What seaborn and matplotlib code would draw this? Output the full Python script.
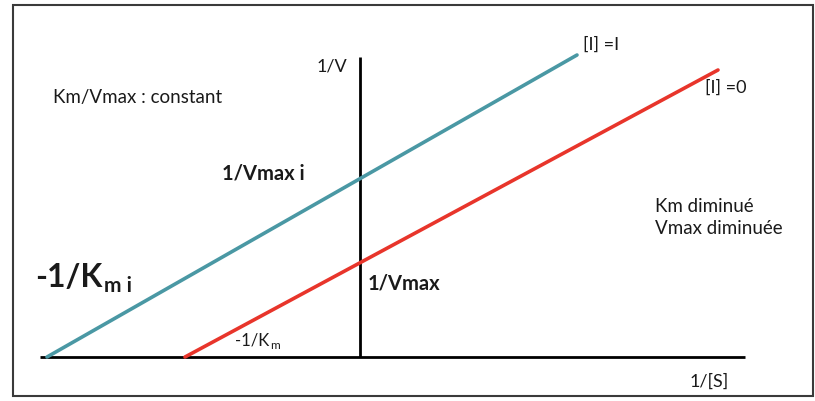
import matplotlib
matplotlib.use('Agg')
import matplotlib.pyplot as plt
from matplotlib.patches import Rectangle
import pandas as pd
import seaborn as sns

# Données du diagramme de Lineweaver-Burk (unités arbitraires)
inv_s_inhib = [-3.13, 2.17]   # [I] = I
inv_v_inhib = [0.0, 3.02]
inv_s_sans = [-1.75, 3.58]    # [I] = 0
inv_v_sans = [0.0, 2.87]
axe_x = [-3.20, 3.85]
axe_y = [0.0, 3.00]

sns.set_theme(style='white')
plt.rcParams['font.family'] = ['Lato', 'DejaVu Sans']

df = pd.concat([
    pd.DataFrame({'1/[S]': inv_s_inhib, '1/V': inv_v_inhib, 'serie': '[I] =I'}),
    pd.DataFrame({'1/[S]': inv_s_sans, '1/V': inv_v_sans, 'serie': '[I] =0'}),
])

fig = plt.figure(figsize=(8.15, 4.01), dpi=100)
ax = fig.add_axes([0, 0, 1, 1])

# axes
ax.plot(axe_x, [0, 0], color='black', lw=2.0, solid_capstyle='butt')
ax.plot([0, 0], axe_y, color='black', lw=2.0, solid_capstyle='butt')

sns.lineplot(data=df, x='1/[S]', y='1/V', hue='serie', estimator=None, sort=False,
             palette={'[I] =I': '#4a98a4', '[I] =0': '#e8352b'}, lw=2.6,
             legend=False, ax=ax)

ax.set_xlim(-3.60, 4.55)
ax.set_ylim(-0.44, 3.57)
ax.axis('off')

c = '#1a1a1a'
ax.text(-3.07, 2.60, 'Km/Vmax : constant', fontsize=13.5, color=c, ha='left', va='center')
ax.text(-0.13, 2.91, '1/V', fontsize=13, color=c, ha='right', va='center')
ax.text(2.23, 3.12, '[I] =I', fontsize=13, color=c, ha='left', va='center')
ax.text(3.45, 2.69, '[I] =0', fontsize=13, color=c, ha='left', va='center')
ax.text(-0.55, 1.84, '1/Vmax i', fontsize=14.5, fontweight='bold', color=c, ha='right', va='center')
ax.text(2.95, 1.51, 'Km diminué', fontsize=13.5, color=c, ha='left', va='center')
ax.text(2.95, 1.28, 'Vmax diminuée', fontsize=13.5, color=c, ha='left', va='center')

# -1/Km i avec indice
t_big = ax.text(-3.25, 0.70, '-1/K', fontsize=23, fontweight='bold', color=c,
                ha='left', va='baseline')
ax.annotate('m i', xy=(1, 0), xycoords=t_big, xytext=(1, -3), textcoords='offset points',
            fontsize=15, fontweight='bold', color=c, ha='left', va='bottom')

ax.text(0.08, 0.74, '1/Vmax', fontsize=14.5, fontweight='bold', color=c, ha='left', va='center')

t_small = ax.text(-1.25, 0.12, '-1/K', fontsize=12, color=c, ha='left', va='baseline')
ax.annotate('m', xy=(1, 0), xycoords=t_small, xytext=(0.5, -2), textcoords='offset points',
            fontsize=8.5, color=c, ha='left', va='bottom')

ax.text(3.30, -0.25, '1/[S]', fontsize=13, color=c, ha='left', va='center')

# cadre
fig.add_artist(Rectangle((13 / 815, 5 / 401), 800 / 815, 391 / 401, transform=fig.transFigure,
                         fill=False, ec='#3a3a3a', lw=1.5))

fig.savefig('out.png', dpi=100)
